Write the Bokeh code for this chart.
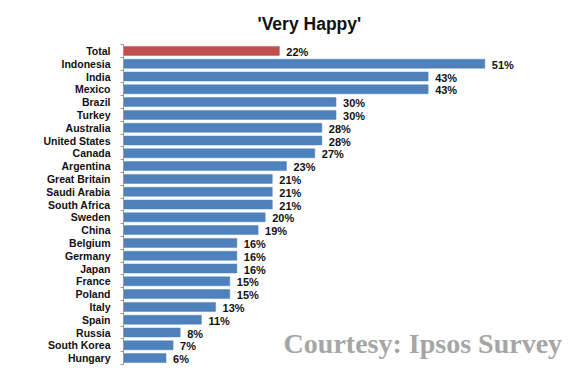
from bokeh.plotting import figure
from bokeh.models import ColumnDataSource, Range1d, FixedTicker, Label, Title
from bokeh.core.properties import value
from bokeh.embed import file_html
from bokeh.resources import INLINE

countries = ["Total", "Indonesia", "India", "Mexico", "Brazil", "Turkey", "Australia",
             "United States", "Canada", "Argentina", "Great Britain", "Saudi Arabia",
             "South Africa", "Sweden", "China", "Belgium", "Germany", "Japan", "France",
             "Poland", "Italy", "Spain", "Russia", "South Korea", "Hungary"]
very_happy = [22, 51, 43, 43, 30, 30, 28, 28, 27, 23, 21, 21, 21, 20, 19, 16, 16, 16,
              15, 15, 13, 11, 8, 7, 6]
title_text = "'Very Happy'"
credit_text = "Courtesy: Ipsos Survey"

n = len(countries)
pos = list(range(n))
colors = ["#C0504D" if c == "Total" else "#4F81BD" for c in countries]
src = ColumnDataSource(dict(y=pos, v=very_happy, c=colors,
                            lab=[f"{v}%" for v in very_happy]))

p = figure(width=575, height=372, output_backend="svg", toolbar_location=None,
           x_range=Range1d(0, 63.8), y_range=Range1d(n - 0.5, -0.5),
           x_axis_location=None, min_border_left=123, min_border_right=0,
           min_border_top=44, min_border_bottom=8)
p.outline_line_color = None
p.xgrid.visible = False
p.ygrid.visible = False

p.hbar(y="y", left=0, right="v", height=0.7, fill_color="c", line_color="c",
       line_width=0.5, source=src)
p.text(x="v", y="y", text="lab", source=src, x_offset=7, y_offset=1,
       text_baseline="middle", text_align="left", text_font=value("Liberation Sans"),
       text_font_style="bold", text_font_size="11px", text_color="#111111")

ax = p.yaxis[0]
ax.ticker = FixedTicker(ticks=pos, minor_ticks=[i - 0.5 for i in range(n + 1)])
ax.major_label_overrides = {i: c for i, c in enumerate(countries)}
ax.major_tick_out = 0
ax.major_tick_in = 0
ax.minor_tick_out = 3
ax.minor_tick_in = 0
ax.minor_tick_line_color = "#999999"
ax.axis_line_color = "#999999"
ax.major_label_standoff = 10
ax.major_label_text_font = "Liberation Sans"
ax.major_label_text_font_style = "bold"
ax.major_label_text_font_size = "10.5px"
ax.major_label_text_color = "#111111"

p.title = Title(text=title_text, align="left", offset=134, standoff=22,
                text_font="Liberation Sans", text_font_style="bold",
                text_font_size="17.5px", text_color="#111111")

p.add_layout(Label(x=22.6, y=22.85, text=credit_text,
                   text_font="Liberation Serif", text_font_style="bold",
                   text_font_size="28px", text_color="#a6a6a6",
                   text_baseline="alphabetic"))

open("out.html", "w").write(file_html(p, INLINE))
